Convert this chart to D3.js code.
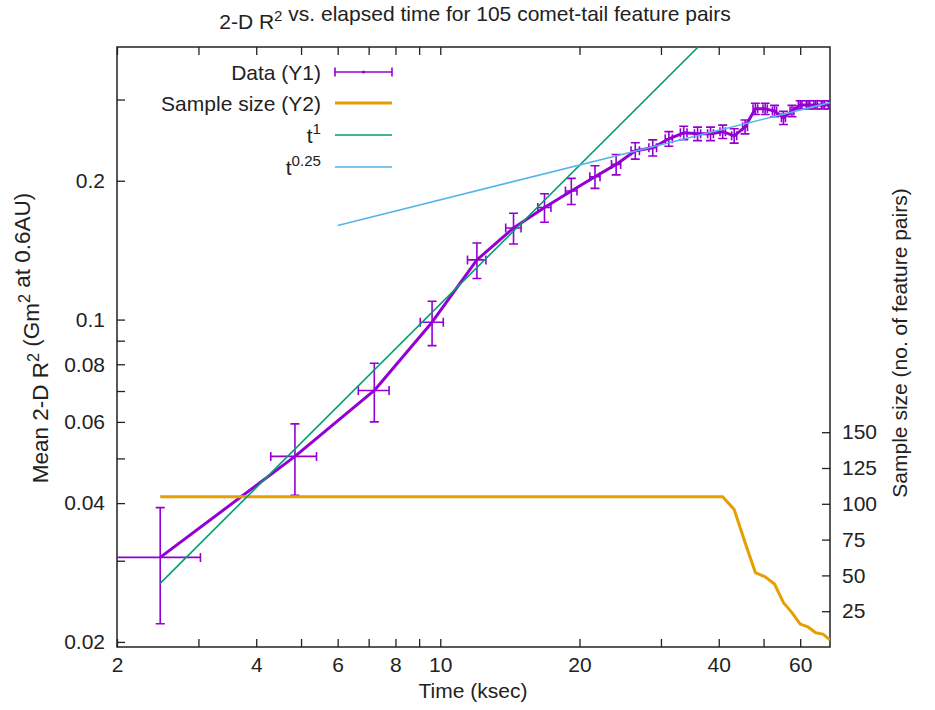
<html>
<head>
    <script src="https://d3js.org/d3.v7.min.js"></script>
    <style>
        body { margin: 0; background: #fff; }
        text { font-family: "Liberation Sans", Arial, sans-serif; fill: #222; }
    </style>
</head>
<body>
<svg id="chart" width="935" height="710"></svg>
<script>
    // mean R^2 per time bin
    const times = [2.48, 4.85, 7.2, 9.6, 12.0, 14.4, 16.8, 19.2, 21.6, 24.0, 26.4, 28.8, 31.2, 33.6, 36.0,
                   38.4, 40.8, 43.2, 45.6, 48.0, 50.4, 52.8, 55.2, 57.6, 60.0, 62.4, 64.8, 67.2, 69.6];
    const meanR2 = [0.0305, 0.0505, 0.0702, 0.0987, 0.1347, 0.158, 0.175, 0.190, 0.204, 0.217, 0.2323, 0.2358,
                    0.2466, 0.2541, 0.2529, 0.2529, 0.2555, 0.2503, 0.2618, 0.2864, 0.2864, 0.2834, 0.2738,
                    0.2834, 0.2921, 0.2921, 0.2921, 0.2921, 0.2921];
    const r2Err = [0.0086, 0.0089, 0.0102, 0.0109, 0.0119, 0.0121, 0.0124, 0.0124, 0.0115, 0.011, 0.0095, 0.0095,
                   0.009, 0.0085, 0.0085, 0.0085, 0.0085, 0.009, 0.009, 0.008, 0.008, 0.008, 0.009, 0.008,
                   0.006, 0.006, 0.006, 0.006, 0.006];
    const timeErr = 0.55;
    const sampleSize = [105, 105, 105, 105, 105, 105, 105, 105, 105, 105, 105, 105, 105, 105, 105, 105, 105,
                        96, 73, 52, 49, 44, 31, 24, 16, 14, 10, 9, 5];

    // power-law guide lines (end points)
    const t1Times = [2.48, 36.1];
    const t1Values = [0.0268, 0.39];
    const tQuarterTimes = [6, 69.6];
    const tQuarterValues = [0.160, 0.2955];

    const xTicks = [2, 3, 4, 5, 6, 7, 8, 9, 10, 20, 30, 40, 50, 60];
    const xTickLabels = ["2", "", "4", "", "6", "", "8", "", "10", "20", "", "40", "", "60"];
    const yTicks = [0.02, 0.03, 0.04, 0.05, 0.06, 0.07, 0.08, 0.09, 0.1, 0.2, 0.3];
    const yTickLabels = ["0.02", "", "0.04", "", "0.06", "", "0.08", "", "0.1", "0.2", ""];
    const y2Ticks = [25, 50, 75, 100, 125, 150];

    const purple = "#9400d3", orange = "#e69f00", green = "#009e73", blue = "#56b4e9";

    const pLeft = 117, pRight = 830, pTop = 47, pBottom = 647;
    const svg = d3.select("#chart");

    const xScale = d3.scaleLog().domain([2, 69.6]).range([pLeft, pRight]);
    const yScale = d3.scaleLog().domain([0.0195, 0.39]).range([pBottom, pTop]);
    const y2Scale = d3.scaleLinear().domain([0, 419]).range([pBottom, pTop]);

    svg.append("defs").append("clipPath").attr("id", "plotclip")
       .append("rect").attr("x", pLeft).attr("y", pTop).attr("width", pRight - pLeft).attr("height", pBottom - pTop);

    // axes
    function styleAxis(g) {
        g.select(".domain").remove();
        g.selectAll("line").attr("stroke", "#222").attr("stroke-width", 1.3);
        g.selectAll("text").attr("font-size", 21).attr("font-family", "Liberation Sans, Arial, sans-serif").attr("fill", "#222");
    }
    svg.append("g").attr("transform", `translate(0,${pBottom})`)
       .call(d3.axisBottom(xScale).tickValues(xTicks).tickFormat((d, i) => xTickLabels[i]).tickSize(-8).tickPadding(10))
       .call(styleAxis);
    svg.append("g").attr("transform", `translate(0,${pTop})`)
       .call(d3.axisTop(xScale).tickValues(xTicks).tickFormat("").tickSize(-8))
       .call(styleAxis);
    svg.append("g").attr("transform", `translate(${pLeft},0)`)
       .call(d3.axisLeft(yScale).tickValues(yTicks).tickFormat((d, i) => yTickLabels[i]).tickSize(-8).tickPadding(12))
       .call(styleAxis);
    svg.append("g").attr("transform", `translate(${pRight},0)`)
       .call(d3.axisRight(y2Scale).tickValues(y2Ticks).tickSize(-8).tickPadding(12))
       .call(styleAxis);

    svg.append("rect").attr("x", pLeft).attr("y", pTop).attr("width", pRight - pLeft).attr("height", pBottom - pTop)
       .attr("fill", "none").attr("stroke", "#222").attr("stroke-width", 1.5);

    // text with superscripts
    function richText(x, y, parts, anchor, size, rotate) {
        const t = svg.append("text").attr("font-size", size).attr("text-anchor", anchor)
            .attr("transform", `translate(${x},${y})` + (rotate ? " rotate(-90)" : ""));
        parts.forEach(p => {
            if (p.sup) {
                t.append("tspan").attr("font-size", size * 0.72).attr("dy", -size * 0.4).text(p.sup);
                t.append("tspan").attr("dy", size * 0.4).text("");
            } else {
                t.append("tspan").text(p.s);
            }
        });
        return t;
    }

    richText(475, 29, [{s: "2-D R"}, {sup: "2"}, {s: " vs. elapsed time for 105 comet-tail feature pairs"}], "middle", 21);
    richText(473, 698, [{s: "Time (ksec)"}], "middle", 21);
    richText(48, 338, [{s: "Mean 2-D R"}, {sup: "2"}, {s: " (Gm"}, {sup: "2"}, {s: " at 0.6AU)"}], "middle", 22.5, true);
    richText(907, 343, [{s: "Sample size (no. of feature pairs)"}], "middle", 21, true);

    const plot = svg.append("g").attr("clip-path", "url(#plotclip)");
    const data = times.map((t, i) => ({t: t, v: meanR2[i], e: r2Err[i], n: sampleSize[i]}));

    // data line
    plot.append("path").datum(data)
        .attr("fill", "none").attr("stroke", purple).attr("stroke-width", 3).attr("stroke-linejoin", "round")
        .attr("d", d3.line().x(d => xScale(d.t)).y(d => yScale(d.v)));

    // error bars
    const cap = 4.5;
    const bars = plot.append("g").attr("stroke", purple).attr("stroke-width", 1.6);
    bars.selectAll("path.ey").data(data).join("path").attr("class", "ey").attr("fill", "none")
        .attr("d", d => {
            const x = xScale(d.t), y0 = yScale(d.v - d.e), y1 = yScale(d.v + d.e);
            return `M${x},${y0}V${y1}M${x - cap},${y0}H${x + cap}M${x - cap},${y1}H${x + cap}`;
        });
    bars.selectAll("path.ex").data(data).join("path").attr("class", "ex").attr("fill", "none")
        .attr("d", d => {
            const y = yScale(d.v), x0 = xScale(d.t - timeErr), x1 = xScale(d.t + timeErr);
            return `M${x0},${y}H${x1}M${x0},${y - cap}V${y + cap}M${x1},${y - cap}V${y + cap}`;
        });

    // sample size
    plot.append("path").datum(data)
        .attr("fill", "none").attr("stroke", orange).attr("stroke-width", 3).attr("stroke-linejoin", "round")
        .attr("d", d3.line().x(d => xScale(d.t)).y(d => y2Scale(d.n)));

    // guide lines
    plot.append("path").datum(t1Times.map((t, i) => [t, t1Values[i]]))
        .attr("fill", "none").attr("stroke", green).attr("stroke-width", 1.6)
        .attr("d", d3.line().x(d => xScale(d[0])).y(d => yScale(d[1])));
    plot.append("path").datum(tQuarterTimes.map((t, i) => [t, tQuarterValues[i]]))
        .attr("fill", "none").attr("stroke", blue).attr("stroke-width", 1.6)
        .attr("d", d3.line().x(d => xScale(d[0])).y(d => yScale(d[1])));

    // legend
    const legend = [
        {label: [{s: "Data (Y1)"}], color: purple, w: 1.6, y: 72, bars: true},
        {label: [{s: "Sample size (Y2)"}], color: orange, w: 3, y: 103},
        {label: [{s: "t"}, {sup: "1"}], color: green, w: 1.6, y: 135},
        {label: [{s: "t"}, {sup: "0.25"}], color: blue, w: 1.6, y: 167}
    ];
    legend.forEach(l => {
        richText(321, l.y + 7.5, l.label, "end", 21);
        svg.append("line").attr("x1", 335).attr("x2", 392).attr("y1", l.y).attr("y2", l.y)
           .attr("stroke", l.color).attr("stroke-width", l.w);
        if (l.bars) {
            svg.append("path").attr("fill", "none").attr("stroke", l.color).attr("stroke-width", 1.6)
               .attr("d", `M335,${l.y - cap}V${l.y + cap}M392,${l.y - cap}V${l.y + cap}`);
            svg.append("circle").attr("cx", 363.5).attr("cy", l.y).attr("r", 1.5).attr("fill", l.color);
        }
    });
</script>
</body>
</html>
